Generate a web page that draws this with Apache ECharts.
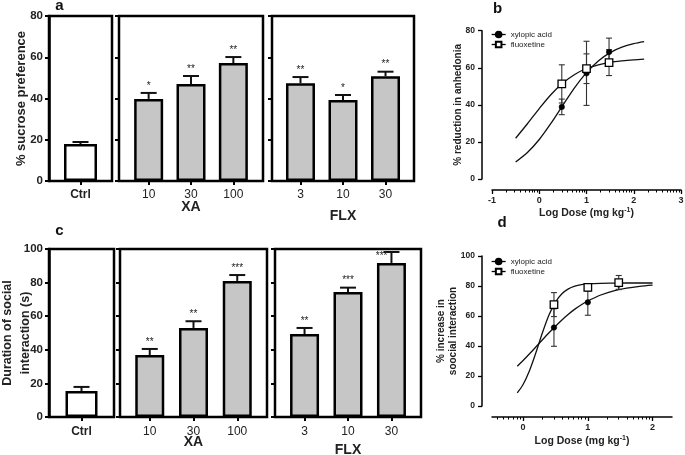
<!DOCTYPE html>
<html>
<head>
<meta charset="utf-8">
<script src="https://cdn.jsdelivr.net/npm/echarts@6/dist/echarts.min.js"></script>
<style>html,body{margin:0;padding:0;background:#fff}#c{width:685px;height:455px}</style>
</head>
<body>
<div id="c"></div>
<script>
// ---------- data ----------
const doseXA = ['10', '30', '100'];
const doseFLX = ['3', '10', '30'];
const ctrlLabel = ['Ctrl'];

// panel a: % sucrose preference
const aCtrl = [17.9];
const aCtrlErr = [1.0];
const aXA = [39.8, 47.0, 57.2];
const aXAErr = [2.9, 3.9, 2.9];
const aXAStars = ['*', '**', '**'];
const aFLX = [47.4, 39.3, 50.8];
const aFLXErr = [3.0, 2.4, 2.2];
const aFLXStars = ['**', '*', '**'];

// panel c: duration of social interaction (s)
const cCtrl = [15.5];
const cCtrlErr = [2.4];
const cXA = [36.9, 53.0, 81.0];
const cXAErr = [3.6, 4.0, 3.5];
const cXAStars = ['**', '**', '***'];
const cFLX = [49.4, 74.4, 91.7];
const cFLXErr = [3.6, 2.6, 6.5];
const cFLXStars = ['**', '***', '***'];

// panel b: % reduction in anhedonia vs log dose
const logDose = [0.477, 1, 1.477];
const bXyl = [38.9, 57.0, 68.5];
const bXylErr = [4.2, 17.3, 7.5];
const bFlx = [51.3, 59.5, 62.8];
const bFlxErr = [10.3, 8.0, 7.0];
const bCurveX = [-0.5, -0.25, 0, 0.25, 0.5, 0.75, 1.0, 1.25, 1.5, 1.75, 2.0, 2.22];
const bXylCurve = [9.2, 14.3, 21.3, 30.1, 39.8, 49.3, 57.4, 63.7, 68.2, 71.1, 73.0, 74.1];
const bFlxCurve = [22.0, 29.8, 38.0, 45.6, 51.8, 56.4, 59.6, 61.6, 62.9, 63.7, 64.3, 64.7];

// panel d: % increase in social interaction vs log dose
const dXyl = [52.3, 69.1, 81.0];
const dXylErr = [12.5, 8.6, 3.2];
const dFlx = [67.6, 79.1, 82.3];
const dFlxErr = [8.0, 2.5, 4.7];
const dCurveX = [-0.09, 0, 0.1, 0.2, 0.3, 0.4, 0.5, 0.6, 0.7, 0.8, 0.9, 1.0, 1.2, 1.4, 1.6, 1.8, 2.0];
const dXylCurve = [26.5, 30.3, 34.8, 39.5, 44.2, 48.8, 53.2, 57.4, 61.2, 64.6, 67.5, 70.0, 74.0, 76.8, 78.6, 79.8, 80.6];
const dFlxCurve = [8.7, 14.3, 23.7, 35.8, 49.0, 60.7, 69.3, 74.8, 78.1, 79.9, 80.9, 81.4, 81.8, 81.9, 82.0, 82.0, 82.0];

const names = ['xylopic acid', 'fluoxetine'];

// ---------- helpers ----------
const F = '"Liberation Sans", Arial, Helvetica, sans-serif';
const BLACK = '#111';

function minorTicks(lo, hi) {
  const out = [];
  for (let d = -2; d <= 3; d++) for (let k = 2; k <= 9; k++) {
    const v = d + Math.log10(k);
    if (v > lo && v < hi) out.push(v);
  }
  return out;
}

function barGrid(l, t, w, h) {
  return { left: l, top: t, width: w, height: h, show: true, borderColor: '#000', borderWidth: 2.5,
    backgroundColor: 'transparent', containLabel: false, outerBoundsMode: 'none' };
}

function catXAxis(gi, min, max, labels, bold, name, gap, margin) {
  const ticks = labels.map((_, i) => i);
  return {
    type: 'value', gridIndex: gi, min: min, max: max, position: 'bottom', nameMoveOverlap: false,
    axisLine: { show: false, onZero: false }, splitLine: { show: false },
    axisTick: { show: true, customValues: ticks, length: 4, lineStyle: { color: '#000', width: 2 } },
    axisLabel: { show: true, customValues: ticks, margin: margin || 8, formatter: v => labels[Math.round(v)] || '',
      fontSize: 12, fontWeight: bold ? 'bold' : 'normal', fontFamily: F, color: '#222' },
    name: name || '', nameLocation: 'middle', nameGap: gap || 0,
    nameTextStyle: { fontSize: 14, fontWeight: 'bold', fontFamily: F, color: '#222', verticalAlign: 'middle' }
  };
}

function barYAxis(gi, max, showLabels, name, gap, lh) {
  return {
    type: 'value', gridIndex: gi, min: 0, max: max, interval: 20, position: 'left', nameMoveOverlap: false,
    axisLine: { show: showLabels, onZero: false, lineStyle: { color: '#000', width: 2.5 } },
    splitLine: { show: false },
    axisTick: { show: true, length: 4, lineStyle: { color: '#000', width: 2 } },
    axisLabel: { show: showLabels, fontSize: 11.5, fontWeight: 'bold', fontFamily: F, color: '#222', margin: 6 },
    name: name || '', nameLocation: 'middle', nameRotate: 90, nameGap: gap || 0,
    nameTextStyle: { fontSize: lh ? 12.5 : 13, fontWeight: 'bold', fontFamily: F, color: '#222', lineHeight: lh || 16, verticalAlign: 'middle' }
  };
}

function bars(xi, vals, color, width) {
  return { type: 'bar', xAxisIndex: xi, yAxisIndex: xi, data: vals.map((v, i) => [i, v]),
    barWidth: width, z: 3, silent: true,
    itemStyle: { color: color, borderColor: '#000', borderWidth: 2.5 } };
}

function barErr(xi, vals, errs, stars) {
  return {
    type: 'custom', xAxisIndex: xi, yAxisIndex: xi, z: 5, silent: true,
    data: vals.map((v, i) => [i, v, errs[i]]),
    renderItem: (params, api) => {
      const i = params.dataIndex;
      const x = api.value(0), v = api.value(1), e = api.value(2);
      const p0 = api.coord([x, v]), p1 = api.coord([x, v + e]);
      const top = params.coordSys.y;
      const ch = [
        { type: 'line', shape: { x1: p0[0], y1: p0[1], x2: p1[0], y2: p1[1] }, style: { stroke: BLACK, lineWidth: 2 } },
        { type: 'line', shape: { x1: p1[0] - 8, y1: p1[1], x2: p1[0] + 8, y2: p1[1] }, style: { stroke: BLACK, lineWidth: 2 } }
      ];
      if (stars) {
        const fits = p1[1] - 13 > top;
        ch.push({ type: 'text', style: {
          text: stars[i], x: fits ? p1[0] : p1[0] - 4, y: fits ? p1[1] - 2 : p1[1] - 1,
          align: fits ? 'center' : 'right', verticalAlign: fits ? 'bottom' : 'top',
          fontSize: 10, fontFamily: F, fill: '#222' } });
      }
      return { type: 'group', children: ch };
    }
  };
}

function doseErr(xi, yi, ys, errs) {
  return {
    type: 'custom', xAxisIndex: xi, yAxisIndex: yi, z: 6, silent: true,
    data: ys.map((v, i) => [logDose[i], v, errs[i]]),
    renderItem: (params, api) => {
      const x = api.value(0), v = api.value(1), e = api.value(2);
      const a = api.coord([x, v - e]), b = api.coord([x, v + e]);
      const st = { stroke: '#333', lineWidth: 1.1 };
      return { type: 'group', children: [
        { type: 'line', shape: { x1: a[0], y1: a[1], x2: b[0], y2: b[1] }, style: st },
        { type: 'line', shape: { x1: a[0] - 3, y1: a[1], x2: a[0] + 3, y2: a[1] }, style: st },
        { type: 'line', shape: { x1: b[0] - 3, y1: b[1], x2: b[0] + 3, y2: b[1] }, style: st }
      ] };
    }
  };
}

function curve(xi, yi, xs, ys) {
  return { type: 'line', xAxisIndex: xi, yAxisIndex: yi, data: xs.map((x, i) => [x, ys[i]]),
    smooth: 0.3, symbol: 'none', silent: true, z: 4, lineStyle: { color: BLACK, width: 1.3 } };
}

function points(xi, yi, name, ys, filled) {
  return { type: 'line', name: name, xAxisIndex: xi, yAxisIndex: yi, data: logDose.map((x, i) => [x, ys[i]]),
    symbol: filled ? 'circle' : 'rect', symbolSize: filled ? 5.5 : 7.5, showSymbol: true, z: 8,
    lineStyle: { opacity: 0 },
    itemStyle: filled ? { color: '#000', borderColor: '#000', borderWidth: 0.5 } : { color: '#fff', borderColor: '#000', borderWidth: 1.3 } };
}

function doseXAxis(gi, min, max, majors, gap) {
  return {
    type: 'value', gridIndex: gi, min: min, max: max, position: 'bottom', offset: 11, nameMoveOverlap: false,
    axisLine: { show: true, onZero: false, lineStyle: { color: '#000', width: 1.5 } }, splitLine: { show: false },
    axisTick: { show: true, customValues: majors, length: 4, lineStyle: { color: '#000', width: 1.3 } },
    axisLabel: { customValues: majors, fontSize: 9, fontWeight: 'bold', fontFamily: F, color: '#222', margin: 6 },
    name: 'Log Dose (mg kg{s|-1})', nameLocation: 'middle', nameGap: gap,
    nameTextStyle: { fontSize: 10.5, fontWeight: 'bold', fontFamily: F, color: '#222', verticalAlign: 'middle',
      rich: { s: { fontSize: 7, fontWeight: 'bold', fontFamily: F, color: '#222', padding: [0, 0, 6, 0] } } }
  };
}

function minorXAxis(gi, min, max) {
  return {
    type: 'value', gridIndex: gi, min: min, max: max, position: 'bottom', offset: 11,
    axisLine: { show: false, onZero: false }, splitLine: { show: false }, axisLabel: { show: false },
    axisTick: { show: true, customValues: minorTicks(min, max), length: 2.5, lineStyle: { color: '#000', width: 1 } }
  };
}

function doseYAxis(gi, max, name, gap, lh) {
  return {
    type: 'value', gridIndex: gi, min: 0, max: max, interval: 20, offset: 10, position: 'left', nameMoveOverlap: false,
    axisLine: { show: true, onZero: false, lineStyle: { color: '#000', width: 1.5 } }, splitLine: { show: false },
    axisTick: { show: true, length: 4, lineStyle: { color: '#000', width: 1.3 } },
    axisLabel: { fontSize: 8.5, fontWeight: 'bold', fontFamily: F, color: '#222', margin: 7 },
    name: name, nameLocation: 'middle', nameRotate: 90, nameGap: gap,
    nameTextStyle: { fontSize: 10, fontWeight: 'bold', fontFamily: F, color: '#222', lineHeight: lh || 12, verticalAlign: 'middle' }
  };
}

const legendBase = {
  orient: 'vertical', left: 486, itemWidth: 14, itemHeight: 7, itemGap: 2, data: names,
  textStyle: { fontSize: 8, fontFamily: F, color: '#222' },
  lineStyle: { color: '#000', width: 1.3, opacity: 1 }, selectedMode: false
};

function letter(t, x, y) {
  return { type: 'text', x: x, y: y, style: { text: t, fontSize: 15, fontWeight: 'bold', fontFamily: F, fill: '#111', align: 'center', verticalAlign: 'middle' } };
}

const plainGrid = (l, t, w, h) => ({ left: l, top: t, width: w, height: h, containLabel: false, outerBoundsMode: 'none' });

const option = {
  animation: false,
  backgroundColor: '#fff',
  grid: [
    barGrid(49, 16, 63, 165),
    barGrid(119, 16, 144, 165),
    barGrid(272, 16, 142, 165),
    barGrid(49, 249, 65, 168),
    barGrid(120, 249, 147, 168),
    barGrid(275, 249, 146, 168),
    plainGrid(492, 30.7, 189, 148.3),
    plainGrid(492, 256, 180, 150)
  ],
  xAxis: [
    catXAxis(0, -1, 1, ctrlLabel, true),
    catXAxis(1, -0.7, 2.7, doseXA, false, 'XA', 26),
    catXAxis(2, -0.67, 2.67, doseFLX, false, 'FLX', 35),
    catXAxis(3, -1, 1, ctrlLabel, true, '', 0, 9),
    catXAxis(4, -0.68, 2.68, doseXA, false, 'XA', 25, 9),
    catXAxis(5, -0.68, 2.68, doseFLX, false, 'FLX', 33, 9),
    doseXAxis(6, -1, 3, [-1, 0, 1, 2, 3], 23),
    minorXAxis(6, -1, 3),
    doseXAxis(7, -0.48, 2.3, [0, 1, 2], 24),
    minorXAxis(7, -0.48, 2.3)
  ],
  yAxis: [
    barYAxis(0, 80, true, '% sucrose preference', 28),
    barYAxis(1, 80, false),
    barYAxis(2, 80, false),
    barYAxis(3, 100, true, 'Duration of social\ninteraction (s)', 32, 18),
    barYAxis(4, 100, false),
    barYAxis(5, 100, false),
    doseYAxis(6, 80, '% reduction in anhedonia', 24),
    doseYAxis(7, 100, '% increase in\nsoocial interaction', 35, 12)
  ],
  legend: [
    Object.assign({}, legendBase, { top: 25.5 }),
    Object.assign({}, legendBase, { top: 252.5 })
  ],
  series: [
    bars(0, aCtrl, '#ffffff', 33), barErr(0, aCtrl, aCtrlErr),
    bars(1, aXA, '#c6c6c6', 29), barErr(1, aXA, aXAErr, aXAStars),
    bars(2, aFLX, '#c6c6c6', 29), barErr(2, aFLX, aFLXErr, aFLXStars),
    bars(3, cCtrl, '#ffffff', 32), barErr(3, cCtrl, cCtrlErr),
    bars(4, cXA, '#c6c6c6', 29), barErr(4, cXA, cXAErr, cXAStars),
    bars(5, cFLX, '#c6c6c6', 29), barErr(5, cFLX, cFLXErr, cFLXStars),
    curve(6, 6, bCurveX, bXylCurve), curve(6, 6, bCurveX, bFlxCurve),
    doseErr(6, 6, bXyl, bXylErr), doseErr(6, 6, bFlx, bFlxErr),
    points(6, 6, names[0], bXyl, true), points(6, 6, names[1], bFlx, false),
    curve(8, 7, dCurveX, dXylCurve), curve(8, 7, dCurveX, dFlxCurve),
    doseErr(8, 7, dXyl, dXylErr), doseErr(8, 7, dFlx, dFlxErr),
    points(8, 7, names[0], dXyl, true), points(8, 7, names[1], dFlx, false)
  ],
  graphic: [
    letter('a', 59.5, 6), letter('c', 59.5, 231), letter('b', 497.5, 9), letter('d', 502, 222.5)
  ]
};

const chart = echarts.init(document.getElementById('c'), null, { renderer: 'canvas' });
chart.setOption(option);
</script>
</body>
</html>
